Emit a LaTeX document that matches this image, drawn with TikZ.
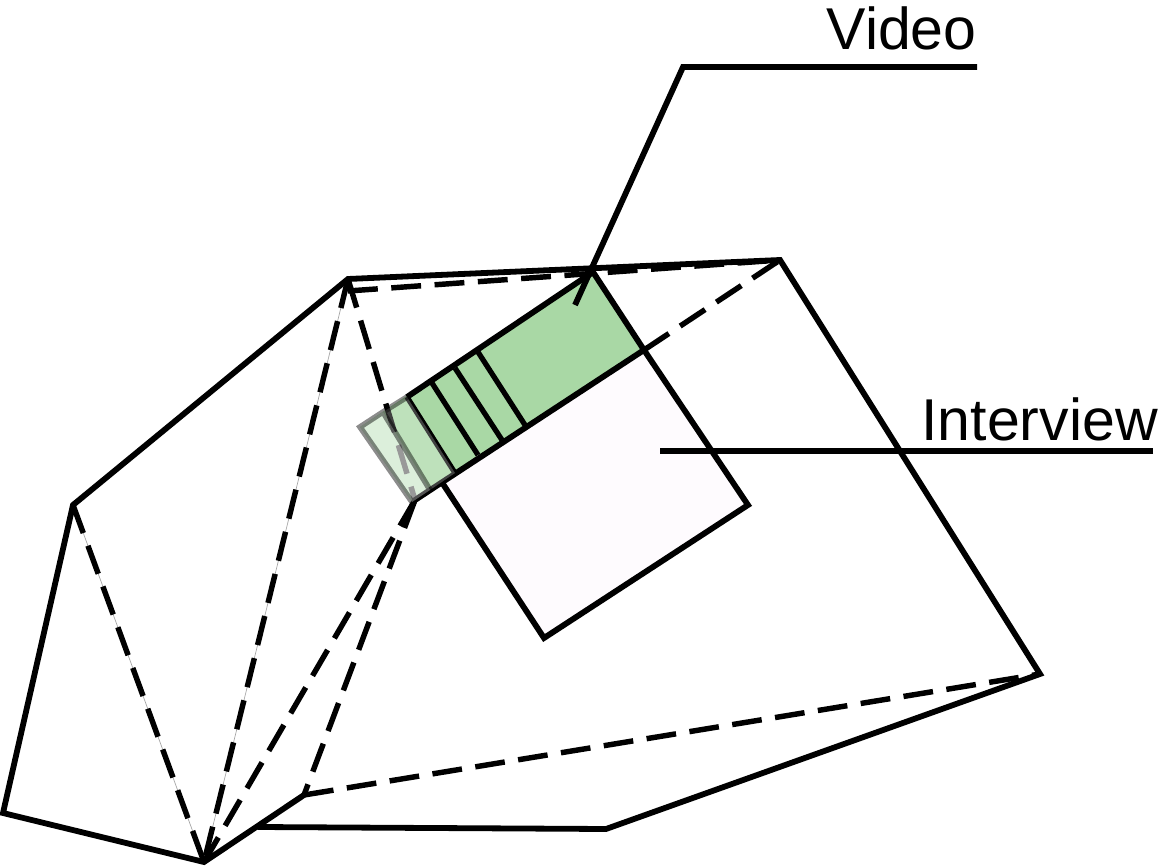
\documentclass[tikz,border=0pt]{standalone}
\usepackage{fontspec}
\setmainfont{Liberation Sans}
\usetikzlibrary{calc}
\definecolor{tapegreen}{HTML}{A9D8A5}
\definecolor{interviewpink}{HTML}{FEFBFE}

\begin{document}
\begin{tikzpicture}[x=0.02cm,y=-0.02cm,line join=miter,
    solidline/.style={line width=3.3pt},
    dashline/.style={line width=3.1pt,dash pattern=on 17pt off 7.7pt},
    faintline/.style={line width=0.4pt,gray!70},
    dividerline/.style={line width=3pt},
    labeltext/.style={font=\fontsize{33.6}{36}\selectfont,inner sep=0pt}]
    \useasboundingbox (0,0) rectangle (1160,868);
    % outline of the terrain
    \coordinate (a) at (3,813);
    \coordinate (b) at (204,862);
    \coordinate (c) at (73,505);
    \coordinate (d) at (348,279);
    \coordinate (e) at (780,260);
    \coordinate (f) at (1040,674);
    \coordinate (g) at (606,829);
    \coordinate (h) at (258,827);
    \coordinate (i) at (304,795);
    \coordinate (j) at (415,500);
    \coordinate (d2) at (348,291);
    % interview square and video strip
    \coordinate (p1) at (593,272);
    \coordinate (p2) at (644,350);
    \coordinate (p3) at (748,505);
    \coordinate (p4) at (544,638);
    \coordinate (p5) at (443,484);
    \coordinate (s1) at (407,397);
    \coordinate (s2) at (455,473);
    \coordinate (s3) at (383,412);
    \coordinate (s4) at (430,490);
    \coordinate (s5) at (360,427);
    \coordinate (s6) at (412,502);

    \fill[interviewpink] (p2) -- (p3) -- (p4) -- (p5) -- cycle;
    \fill[tapegreen] (p1) -- (p2) -- (s6) -- (s5) -- cycle;

    % hidden edges
    \draw[faintline] (c) -- (b) (d) -- (b);
    \draw[dashline] (c) -- (b);
    \draw[dashline] (d) -- (b);
    \draw[dashline] (d2) -- (e);
    \draw[dashline] (d) -- (j);
    \draw[dashline] (j) -- (b);
    \draw[dashline] (j) -- (i);
    \draw[dashline] (i) -- (f);
    \draw[dashline] (p2) -- (e);

    % visible edges
    \draw[solidline] (h) -- (g) -- (f) -- (e) -- (d) -- (c) -- (a) -- (b) -- (i);
    \draw[solidline] (p1) -- (p2) -- (p3) -- (p4) -- (p5);
    \draw[solidline] (p1) -- (s1);
    \draw[solidline] (p2) -- (j);
    \draw[dividerline] (478,352) coordinate (t1) -- (525,425) coordinate (u1);
    \draw[dividerline] (455,368) coordinate (t2) -- (502,440) coordinate (u2);
    \draw[dividerline] (432,383) coordinate (t3) -- (478,455) coordinate (u3);
    \draw[dividerline] (s1) -- (s2);

    % pale end of the strip
    \fill[white,opacity=0.25] (s1) -- (s2) -- (s4) -- (s3) -- cycle;
    \fill[white,opacity=0.6] (s3) -- (s4) -- (s6) -- (s5) -- cycle;
    \draw[line width=3.2pt,black,opacity=0.45] (s1) -- (s3) -- (s5) -- (s6) -- (s4) -- (s3);

    % labels and leaders
    \node[labeltext,anchor=base east] (video) at (977,50) {Video};
    \node[labeltext,anchor=base east] (interview) at (1158,440) {Interview};
    \coordinate (v1) at (977,67);
    \coordinate (v2) at (683,67);
    \coordinate (v3) at (575,305);
    \coordinate (w1) at (1153,451);
    \coordinate (w2) at (660,451);
    \draw[solidline] (v1) -- (v2) -- (v3);
    \draw[solidline] (w1) -- (w2);
\end{tikzpicture}
\end{document}
